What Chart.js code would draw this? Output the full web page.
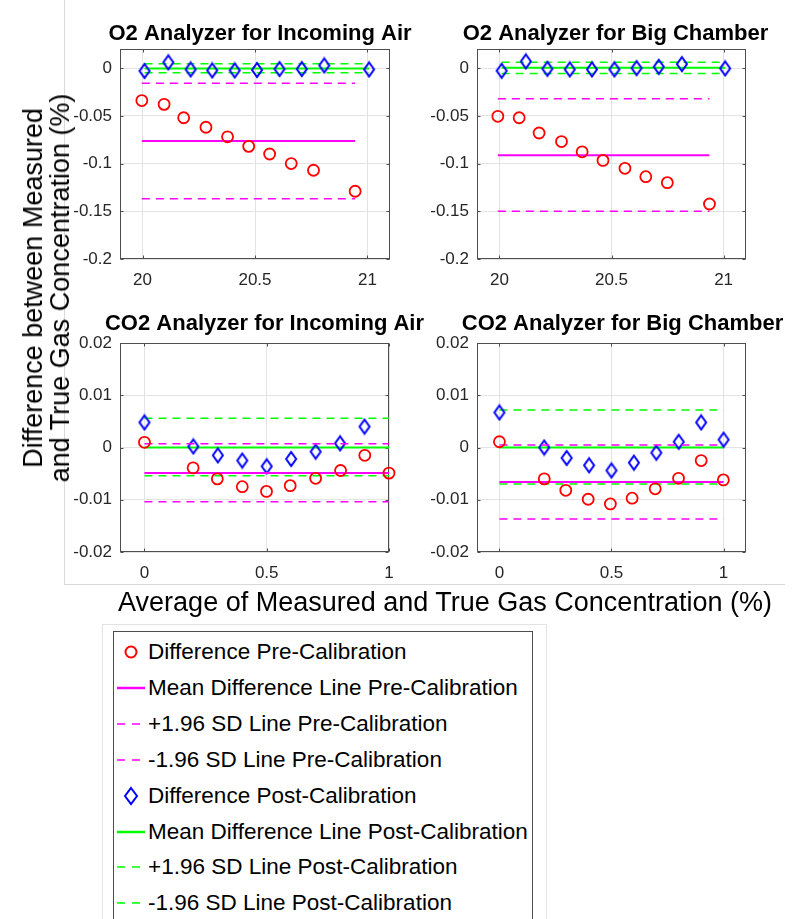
<!DOCTYPE html>
<html>
<head>
<meta charset="utf-8">
<script src="https://cdn.jsdelivr.net/npm/chart.js@4.4.0/dist/chart.umd.min.js"></script>
<style>
  html, body { margin: 0; padding: 0; background: #fff; overflow: hidden; }
  body { width: 796px; height: 919px; position: relative; font-family: "Liberation Sans", Arial, sans-serif; }
  canvas { position: absolute; }
  .frame-v { position: absolute; left: 64px; top: 0; height: 584px; border-left: 1px solid #d9d9d9; }
  .frame-h { position: absolute; left: 64px; top: 584px; width: 721px; border-top: 1px solid #d9d9d9; }
  #ylabel {
    position: absolute; left: 47px; top: 288px; transform: translate(-50%, -50%) rotate(-90deg);
    font-size: 27px; line-height: 27px; white-space: nowrap; text-align: center; color: #000;
  }
  #xlabel {
    position: absolute; left: 445px; top: 589px; transform: translateX(-50%);
    font-size: 27px; line-height: 27px; white-space: nowrap; color: #000;
  }
  #legendOuter { position: absolute; left: 102px; top: 624px; width: 443px; height: 320px; border: 1px solid #e3e3e3; }
  #legendBox { position: absolute; left: 113px; top: 631px; width: 418px; height: 320px; border: 1px solid #4d4d4d; background: #fff; }
  .row { position: absolute; left: 113px; height: 36px; line-height: 36px; font-size: 22.5px; white-space: nowrap; color: #000; }
  .row svg { position: absolute; left: 0; top: 0; }
  .row span { position: absolute; left: 35px; }
</style>
</head>
<body>
<div class="frame-v"></div>
<div class="frame-h"></div>
<canvas id="o2Air" width="430" height="295" style="left:60px;top:0px"></canvas>
<canvas id="o2Big" width="379" height="295" style="left:417px;top:0px"></canvas>
<canvas id="co2Air" width="430" height="294" style="left:60px;top:294px"></canvas>
<canvas id="co2Big" width="379" height="294" style="left:417px;top:294px"></canvas>
<div id="ylabel">Difference between Measured<br>and True Gas Concentration (%)</div>
<div id="xlabel">Average of Measured and True Gas Concentration (%)</div>
<div id="legendOuter"></div>
<div id="legendBox"></div>
<div id="legend"></div>
<script>
// ---- O2 analyzer, incoming air
const o2AirPreX = [19.997, 20.096, 20.183, 20.282, 20.378, 20.472, 20.565, 20.661, 20.76, 20.945]
const o2AirPreY = [-0.034, -0.038, -0.052, -0.062, -0.072, -0.082, -0.090, -0.100, -0.107, -0.129]
const o2AirPostX = [20.009, 20.115, 20.214, 20.31, 20.41, 20.509, 20.609, 20.708, 20.808, 21.007]
const o2AirPostY = [-0.003, 0.006, -0.0014, -0.0024, -0.0024, -0.002, -0.001, -0.001, 0.0028, -0.0014]
const o2AirPreLines = [-0.0765, -0.016, -0.137]     // mean, +1.96 SD, -1.96 SD
const o2AirPostLines = [-0.0003, 0.0045, -0.0048]
const o2AirPreSpan = [19.997, 20.945]
const o2AirPostSpan = [20.009, 21.007]

// ---- O2 analyzer, big chamber
const o2BigPreX = [19.993, 20.088, 20.177, 20.277, 20.369, 20.462, 20.56, 20.653, 20.749, 20.937]
const o2BigPreY = [-0.0505, -0.052, -0.068, -0.077, -0.0877, -0.0967, -0.105, -0.1138, -0.12, -0.1424]
const o2BigPostX = [20.01, 20.118, 20.214, 20.314, 20.413, 20.513, 20.612, 20.711, 20.814, 21.007]
const o2BigPostY = [-0.0028, 0.007, -0.0007, -0.0014, -0.0014, -0.0014, 0, 0.0014, 0.0042, -0.0003]
const o2BigPreLines = [-0.0912, -0.032, -0.150]
const o2BigPostLines = [0.0003, 0.006, -0.0056]
const o2BigPreSpan = [19.993, 20.937]
const o2BigPostSpan = [20.01, 21.007]

// ---- CO2 analyzer, incoming air
const co2AirPreX = [0, 0.199, 0.298, 0.4, 0.499, 0.596, 0.7, 0.802, 0.901, 1.0]
const co2AirPreY = [0.001, -0.0039, -0.006, -0.0075, -0.0084, -0.0073, -0.0059, -0.0044, -0.0015, -0.0049]
const co2AirPostX = [0, 0.2, 0.3, 0.4, 0.5, 0.6, 0.7, 0.8, 0.9]
const co2AirPostY = [0.0048, 0.0002, -0.0015, -0.0025, -0.0036, -0.0022, -0.0008, 0.0008, 0.004]
const co2AirPreLines = [-0.0049, 0.0007, -0.0104]
const co2AirPostLines = [0.0, 0.0056, -0.0054]
const co2AirPreSpan = [0, 1.0]
const co2AirPostSpan = [0, 1.0]

// ---- CO2 analyzer, big chamber
const co2BigPreX = [0, 0.2, 0.296, 0.396, 0.495, 0.592, 0.695, 0.799, 0.9, 0.999]
const co2BigPreY = [0.0011, -0.006, -0.0082, -0.0099, -0.0108, -0.0097, -0.0079, -0.0059, -0.0025, -0.0062]
const co2BigPostX = [0, 0.2, 0.3, 0.4, 0.5, 0.6, 0.7, 0.8, 0.9, 1.0]
const co2BigPostY = [0.0067, 0, -0.002, -0.0034, -0.0044, -0.0029, -0.001, 0.0011, 0.0048, 0.0015]
const co2BigPreLines = [-0.0066, 0.0005, -0.0137]
const co2BigPostLines = [0.0, 0.0072, -0.007]
const co2BigPreSpan = [0, 1.0]
const co2BigPostSpan = [0, 1.0]

// axes
const o2XRange = [19.9, 21.1]
const o2XTicks = [20, 20.5, 21]
const o2YRange = [-0.2, 0.02]
const o2YTicks = [-0.2, -0.15, -0.1, -0.05, 0]
const co2AirXRange = [-0.1, 1.0]
const co2BigXRange = [-0.1, 1.1]
const co2XTicks = [0, 0.5, 1]
const co2YRange = [-0.02, 0.02]
const co2YTicks = [-0.02, -0.01, 0, 0.01, 0.02]

const legendLabels = [
    'Difference Pre-Calibration', 'Mean Difference Line Pre-Calibration',
    '+1.96 SD Line Pre-Calibration', '-1.96 SD Line Pre-Calibration',
    'Difference Post-Calibration', 'Mean Difference Line Post-Calibration',
    '+1.96 SD Line Post-Calibration', '-1.96 SD Line Post-Calibration'
]

const RED = '#ff0000', BLUE = '#0000ff', MAGENTA = '#ff00ff', GREEN = '#00ff00'
const AXIS = '#4d4d4d', TICKTEXT = '#262626'
const FONT = '"Liberation Sans", Arial, sans-serif'

Chart.defaults.font.family = FONT

// matlab style diamond, a bit taller than wide
function diamond(w, h, color) {
    const c = document.createElement('canvas')
    c.width = w + 4; c.height = h + 4
    const g = c.getContext('2d')
    g.strokeStyle = color; g.lineWidth = 2
    g.beginPath()
    g.moveTo(c.width / 2, 2); g.lineTo(c.width - 2, c.height / 2)
    g.lineTo(c.width / 2, c.height - 2); g.lineTo(2, c.height / 2)
    g.closePath(); g.stroke()
    return c
}
const diamondImg = diamond(10, 14, BLUE)

// box around axes + inward ticks
const boxPlugin = {
    id: 'box',
    beforeDatasetsDraw(chart) {
        const { ctx, chartArea: a, scales } = chart
        const l = Math.round(a.left) + 0.5, r = Math.round(a.right) - 0.5
        const t = Math.round(a.top) + 0.5, b = Math.round(a.bottom) - 0.5
        ctx.save()
        ctx.strokeStyle = AXIS
        ctx.lineWidth = 1
        ctx.strokeRect(l, t, r - l, b - t)
        ctx.beginPath()
        scales.x.ticks.forEach(tk => {
            const px = Math.round(scales.x.getPixelForValue(tk.value)) + 0.5
            ctx.moveTo(px, b); ctx.lineTo(px, b - 3)
            ctx.moveTo(px, t); ctx.lineTo(px, t + 3)
        })
        scales.y.ticks.forEach(tk => {
            const py = Math.round(scales.y.getPixelForValue(tk.value)) + 0.5
            ctx.moveTo(l, py); ctx.lineTo(l + 3, py)
            ctx.moveTo(r, py); ctx.lineTo(r - 3, py)
        })
        ctx.stroke()
        ctx.restore()
    }
}

// subplot title, matlab puts it a little right of the axes centre
const titlePlugin = {
    id: 'panelTitle',
    afterDraw(chart, args, opts) {
        const { ctx, chartArea: a } = chart
        ctx.save()
        ctx.font = 'bold 22px ' + FONT
        ctx.fillStyle = '#000'
        ctx.textAlign = 'center'
        ctx.textBaseline = 'alphabetic'
        ctx.fillText(opts.text, (a.left + a.right) / 2 + opts.dx, a.top - opts.rise)
        ctx.restore()
    }
}

function points(xs, ys) {
    return xs.map((x, i) => ({ x: x, y: ys[i] }))
}

function hline(y, span, color, width, dash) {
    return {
        data: [{ x: span[0], y: y }, { x: span[1], y: y }],
        showLine: true, borderColor: color, borderWidth: width, borderDash: dash,
        pointRadius: 0, fill: false, clip: false
    }
}

function build(id, title, titleShift, rightPad, xRange, xTicks, yRange, yTicks, d) {
    const ctx = document.getElementById(id).getContext('2d')
    const dash = [8, 6]
    return new Chart(ctx, {
        type: 'scatter',
        plugins: [boxPlugin, titlePlugin],
        data: {
            datasets: [
                { data: points(d.preX, d.preY), pointStyle: 'circle', pointRadius: 5.5,
                  borderColor: RED, borderWidth: 1.8, backgroundColor: 'rgba(0,0,0,0)', clip: false },
                hline(d.preLines[0], d.preSpan, MAGENTA, 2, []),
                hline(d.preLines[1], d.preSpan, MAGENTA, 1.5, dash),
                hline(d.preLines[2], d.preSpan, MAGENTA, 1.5, dash),
                { data: points(d.postX, d.postY), pointStyle: diamondImg, pointRadius: 7,
                  borderColor: BLUE, clip: false },
                hline(d.postLines[0], d.postSpan, GREEN, 2, []),
                hline(d.postLines[1], d.postSpan, GREEN, 1.5, dash),
                hline(d.postLines[2], d.postSpan, GREEN, 1.5, dash)
            ]
        },
        options: {
            responsive: false,
            animation: false,
            devicePixelRatio: 1,
            layout: { padding: { top: 49, left: 0, bottom: 0, right: rightPad } },
            plugins: {
                legend: { display: false },
                tooltip: { enabled: false },
                title: { display: false },
                panelTitle: { text: title, dx: titleShift[0], rise: titleShift[1] }
            },
            scales: {
                x: {
                    type: 'linear',
                    min: xRange[0], max: xRange[1],
                    afterBuildTicks: s => { s.ticks = xTicks.map(v => ({ value: v })) },
                    afterFit: s => { s.height = 36 },
                    grid: { color: '#e3e3e3', drawTicks: false },
                    border: { display: false },
                    ticks: { padding: 11, color: TICKTEXT, font: { size: 17 }, autoSkip: false,
                             maxRotation: 0, callback: v => String(v) }
                },
                y: {
                    type: 'linear',
                    min: yRange[0], max: yRange[1],
                    afterBuildTicks: s => { s.ticks = yTicks.map(v => ({ value: v })) },
                    afterFit: s => { s.width = 60 },
                    grid: { color: '#e3e3e3', drawTicks: false },
                    border: { display: false },
                    ticks: { padding: 8, color: TICKTEXT, font: { size: 17 }, autoSkip: false,
                             callback: v => String(v) }
                }
            }
        }
    })
}

build('o2Air', 'O2 Analyzer for Incoming Air', [5, 9], 100, o2XRange, o2XTicks, o2YRange, o2YTicks, {
    preX: o2AirPreX, preY: o2AirPreY, postX: o2AirPostX, postY: o2AirPostY,
    preLines: o2AirPreLines, postLines: o2AirPostLines, preSpan: o2AirPreSpan, postSpan: o2AirPostSpan
})
build('o2Big', 'O2 Analyzer for Big Chamber', [4, 9], 50, o2XRange, o2XTicks, o2YRange, o2YTicks, {
    preX: o2BigPreX, preY: o2BigPreY, postX: o2BigPostX, postY: o2BigPostY,
    preLines: o2BigPreLines, postLines: o2BigPostLines, preSpan: o2BigPreSpan, postSpan: o2BigPostSpan
})
build('co2Air', 'CO2 Analyzer for Incoming Air', [10, 13], 101, co2AirXRange, co2XTicks, co2YRange, co2YTicks, {
    preX: co2AirPreX, preY: co2AirPreY, postX: co2AirPostX, postY: co2AirPostY,
    preLines: co2AirPreLines, postLines: co2AirPostLines, preSpan: co2AirPreSpan, postSpan: co2AirPostSpan
})
build('co2Big', 'CO2 Analyzer for Big Chamber', [11, 13], 50, co2BigXRange, co2XTicks, co2YRange, co2YTicks, {
    preX: co2BigPreX, preY: co2BigPreY, postX: co2BigPostX, postY: co2BigPostY,
    preLines: co2BigPreLines, postLines: co2BigPostLines, preSpan: co2BigPreSpan, postSpan: co2BigPostSpan
})

// legend (html, outside the axes like the matlab figure)
const legendKinds = ['circle', 'solid', 'dash', 'dash', 'diamond', 'solid', 'dash', 'dash']
const legendColors = [RED, MAGENTA, MAGENTA, MAGENTA, BLUE, GREEN, GREEN, GREEN]
const legendEl = document.getElementById('legend')
legendLabels.forEach((label, i) => {
    const c = legendColors[i]
    let sym = ''
    if (legendKinds[i] === 'circle') sym = `<circle cx="18" cy="18" r="5.5" fill="none" stroke="${c}" stroke-width="2"/>`
    if (legendKinds[i] === 'diamond') sym = `<polygon points="18,10 24,18 18,26 12,18" fill="none" stroke="${c}" stroke-width="2"/>`
    if (legendKinds[i] === 'solid') sym = `<line x1="4" y1="18" x2="32" y2="18" stroke="${c}" stroke-width="2.5"/>`
    if (legendKinds[i] === 'dash') sym = `<line x1="4" y1="18" x2="28" y2="18" stroke="${c}" stroke-width="1.5" stroke-dasharray="8 7"/>`
    const row = document.createElement('div')
    row.className = 'row'
    row.style.top = (634 + i * 35.9) + 'px'
    row.innerHTML = `<svg width="36" height="36">${sym}</svg><span>${label}</span>`
    legendEl.appendChild(row)
})
</script>
</body>
</html>
